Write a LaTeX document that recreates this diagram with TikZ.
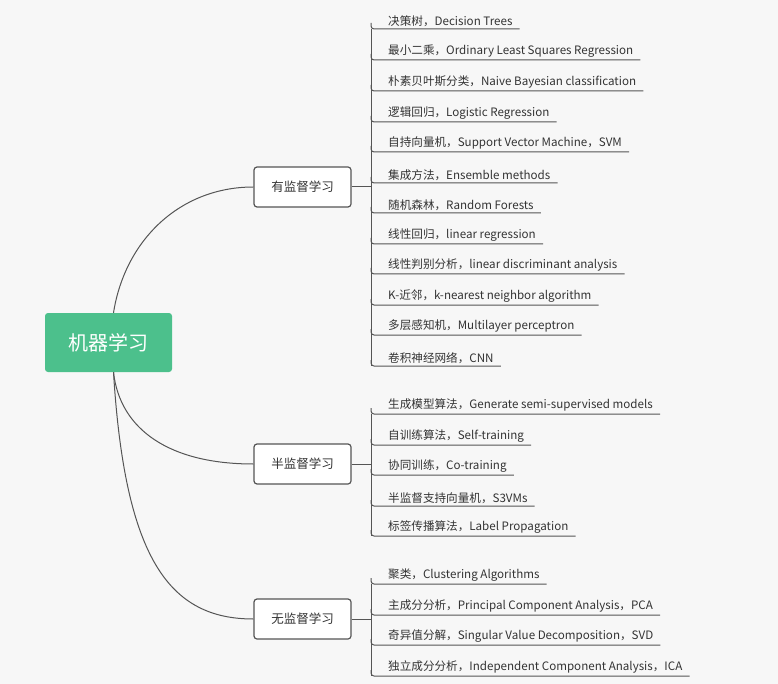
\documentclass[tikz,border=0pt]{standalone}
\usepackage{fontspec}
\newfontfamily\cjk{Noto Sans CJK SC}
\definecolor{rootg}{HTML}{4CC08C}
\definecolor{ln}{HTML}{555555}
\definecolor{tx}{HTML}{333333}
\tikzset{
  leaf/.style={anchor=south west,inner xsep=3pt,inner ysep=2.5pt,font=\cjk\fontsize{11.6}{13}\selectfont,text=tx},
  branch/.style={draw=ln,line width=1.2pt,rounded corners=3pt,minimum width=97pt,minimum height=40pt,font=\cjk\fontsize{12.5}{14}\selectfont,text=tx,fill=white},
  conn/.style={draw=ln,line width=1pt},
}
\begin{document}
\begin{tikzpicture}[x=1pt,y=-1pt]
\fill[white!97!black] (0,0) rectangle (778,684);
\useasboundingbox (0,0) rectangle (778,684);
\node[fill=rootg,rounded corners=3pt,minimum width=127pt,minimum height=59pt,text=white,font=\cjk\fontsize{20}{22}\selectfont] (root) at (108.5,342.5) {机器学习};
\node[branch] (s) at (302.5,187) {有监督学习};
\node[branch] (m) at (302.5,464) {半监督学习};
\node[branch] (u) at (302.5,619) {无监督学习};
\draw[conn] (root.north) ++(5,0) .. controls (125,240) and (180,187) .. (s.west);
\draw[conn] (root.south) ++(5,0) .. controls (120,430) and (170,464) .. (m.west);
\draw[conn] (root.south) ++(5,0) .. controls (125,560) and (170,619) .. (u.west);
\foreach \g/\list in {s/{29/决策树，Decision Trees,60/最小二乘，Ordinary Least Squares Regression,91/朴素贝叶斯分类，Naive Bayesian classification,122/逻辑回归，Logistic Regression,152/自持向量机，Support Vector Machine，SVM,183/集成方法，Ensemble methods,213/随机森林，Random Forests,244/线性回归，linear regression,274/线性判别分析，linear discriminant analysis,305/K-近邻，k-nearest neighbor algorithm,335/多层感知机，Multilayer perceptron,366/卷积神经网络，CNN},
  m/{414/生成模型算法，Generate semi-supervised models,445/自训练算法，Self-training,475/协同训练，Co-training,506/半监督支持向量机，S3VMs,536/标签传播算法，Label Propagation},
  u/{584/聚类，Clustering Algorithms,615/主成分分析，Principal Component Analysis，PCA,645/奇异值分解，Singular Value Decomposition，SVD,676/独立成分分析，Independent Component Analysis，ICA}}{
  \foreach \y/\t [count=\i] in \list {
    \node[leaf] (\g\i) at (385,\y) {\t};
    \draw[conn,rounded corners=3pt] (371,\y-6) |- ([xshift=4pt]\g\i.south east);
  }
}
\draw[conn] (s.east) -- (371,187);
\draw[conn] (371,29) -- (371,366);
\draw[conn] (m.east) -- (371,464);
\draw[conn] (371,414) -- (371,536);
\draw[conn] (u.east) -- (371,619);
\draw[conn] (371,584) -- (371,676);
\end{tikzpicture}
\end{document}
